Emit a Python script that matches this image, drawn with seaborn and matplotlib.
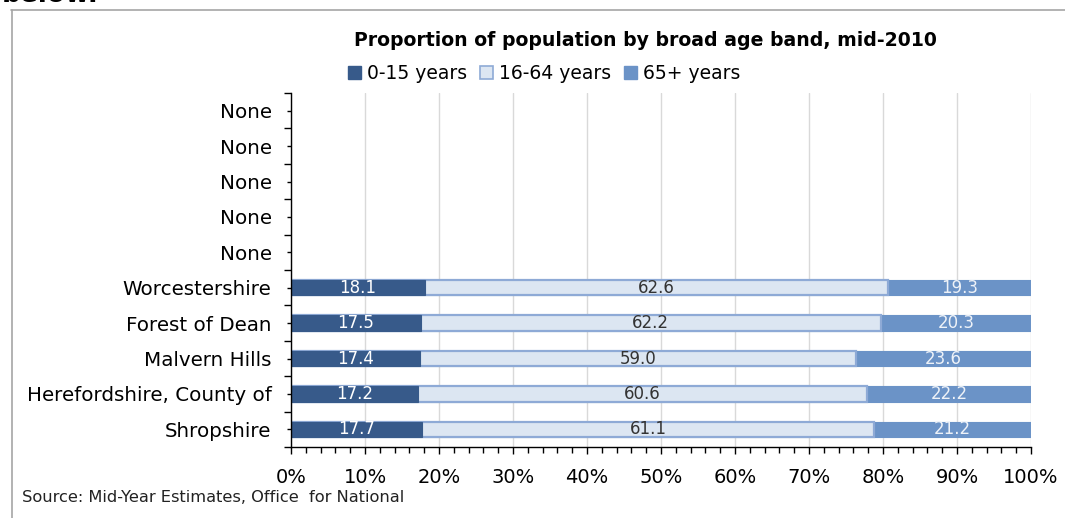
import numpy as np
import pandas as pd
import matplotlib
matplotlib.use("Agg")
import matplotlib.pyplot as plt
from matplotlib.patches import Patch
from matplotlib.lines import Line2D
import seaborn as sns

# Areas, top to bottom as listed on the chart
areas = ["None", "None", "None", "None", "None",
         "Worcestershire", "Forest of Dean", "Malvern Hills",
         "Herefordshire, County of", "Shropshire"]
age_0_15 = [np.nan] * 5 + [18.1, 17.5, 17.4, 17.2, 17.7]
age_16_64 = [np.nan] * 5 + [62.6, 62.2, 59.0, 60.6, 61.1]
age_65_plus = [np.nan] * 5 + [19.3, 20.3, 23.6, 22.2, 21.2]
series_names = ["0-15 years", "16-64 years", "65+ years"]
x_ticks = [0, 10, 20, 30, 40, 50, 60, 70, 80, 90, 100]
x_tick_labels = [f"{t}%" for t in x_ticks]

c_dark = "#375a8a"
c_light = "#dce6f2"
c_mid = "#6b93c7"
c_light_edge = "#8eaad6"

sns.set_theme(style="white")
plt.rcParams["font.family"] = ["DejaVu Sans"]
plt.rcParams["text.color"] = "black"
plt.rcParams["xtick.color"] = "black"
plt.rcParams["ytick.color"] = "black"

rows = [f"r{i}" for i in range(len(areas))]
df = pd.DataFrame({
    "row": rows,
    "young": age_0_15,
    "working": age_16_64,
    "old": age_65_plus,
})
df["cum1"] = df["young"]
df["cum2"] = df["young"] + df["working"]
df["cum3"] = df["young"] + df["working"] + df["old"]

fig = plt.figure(figsize=(10.65, 5.18), dpi=100)
ax = fig.add_axes([291 / 1065, 1 - 447 / 518, 740 / 1065, 354 / 518])

bar_w = 0.43
# stacked bars drawn as cumulative totals, back to front
sns.barplot(data=df, x="cum3", y="row", order=rows, orient="h", color=c_mid,
            saturation=1, width=bar_w, edgecolor=c_mid, linewidth=0.8,
            errorbar=None, ax=ax)
sns.barplot(data=df, x="cum2", y="row", order=rows, orient="h", color=c_light,
            saturation=1, width=bar_w, edgecolor=c_light_edge, linewidth=1.6,
            errorbar=None, ax=ax)
sns.barplot(data=df, x="cum1", y="row", order=rows, orient="h", color=c_dark,
            saturation=1, width=bar_w, edgecolor=c_dark, linewidth=0.8,
            errorbar=None, ax=ax)

# value labels centred in each segment
for i, r in df.iterrows():
    if np.isnan(r["young"]):
        continue
    ax.text(r["young"] / 2, i, f"{r['young']:.1f}", ha="center", va="center",
            color="white", fontsize=12)
    ax.text(r["young"] + r["working"] / 2, i, f"{r['working']:.1f}",
            ha="center", va="center", color="#333333", fontsize=12)
    ax.text(r["cum2"] + r["old"] / 2, i, f"{r['old']:.1f}", ha="center",
            va="center", color="#eef2f8", fontsize=12)

ax.set_xlim(0, 100)
ax.set_ylim(len(areas) - 0.5, -0.5)
ax.set_xticks(x_ticks)
ax.set_xticklabels(x_tick_labels, fontsize=14)
ax.set_xticks(np.arange(0, 101, 2), minor=True)
ax.set_yticks(range(len(areas)))
ax.set_yticklabels(areas, fontsize=14.3)
ax.set_yticks(np.arange(-0.5, len(areas), 1), minor=True)
ax.set_xlabel("")
ax.set_ylabel("")

ax.xaxis.grid(True, which="major", color="#d9d9d9", linewidth=1)
ax.yaxis.grid(False)
ax.set_axisbelow(True)

for s in ["top", "right"]:
    ax.spines[s].set_visible(False)
for s in ["left", "bottom"]:
    ax.spines[s].set_color("black")
    ax.spines[s].set_linewidth(1)

ax.tick_params(axis="x", which="major", direction="out", length=5, width=1,
               color="black", labelcolor="black", pad=10, bottom=True)
ax.tick_params(axis="x", which="minor", direction="out", length=4, width=1,
               color="black", bottom=True)
ax.tick_params(axis="y", which="major", direction="out", length=3, width=1,
               color="black", labelcolor="black", pad=11, left=True)
ax.tick_params(axis="y", which="minor", direction="out", length=5, width=1,
               color="black", left=True)

# legend
handles = [
    Patch(facecolor=c_dark, edgecolor=c_dark, label=series_names[0]),
    Patch(facecolor=c_light, edgecolor=c_light_edge, linewidth=1.2,
          label=series_names[1]),
    Patch(facecolor=c_mid, edgecolor=c_mid, label=series_names[2]),
]
leg = fig.legend(handles=handles, loc="center",
                 bbox_to_anchor=(544 / 1065, 1 - 74 / 518),
                 ncol=3, frameon=False, fontsize=13.5, handlelength=0.7,
                 handleheight=0.7, handletextpad=0.3, columnspacing=0.7)
for t in leg.get_texts():
    t.set_color("black")

fig.text(645 / 1065, 1 - 41 / 518,
         "Proportion of population by broad age band, mid-2010",
         ha="center", va="center", fontsize=13.6, fontweight="bold", color="black")

fig.text(22 / 1065, 1 - 497 / 518,
         "Source: Mid-Year Estimates, Office  for National",
         ha="left", va="center", fontsize=11.7, color="#222222")

# heading text above the chart frame
fig.text(2 / 1065, 1 - 1.5 / 518, "below.", ha="left", va="baseline",
         fontsize=19, fontweight="bold", color="black")

# chart frame
fig.add_artist(Line2D([11 / 1065, 1.0], [1 - 9.5 / 518, 1 - 9.5 / 518],
                      transform=fig.transFigure, color="#a6a6a6", linewidth=1.2))
fig.add_artist(Line2D([11.5 / 1065, 11.5 / 1065], [0.0, 1 - 9.5 / 518],
                      transform=fig.transFigure, color="#a6a6a6", linewidth=1.2))

fig.savefig("out.png", dpi=100, facecolor="white")
